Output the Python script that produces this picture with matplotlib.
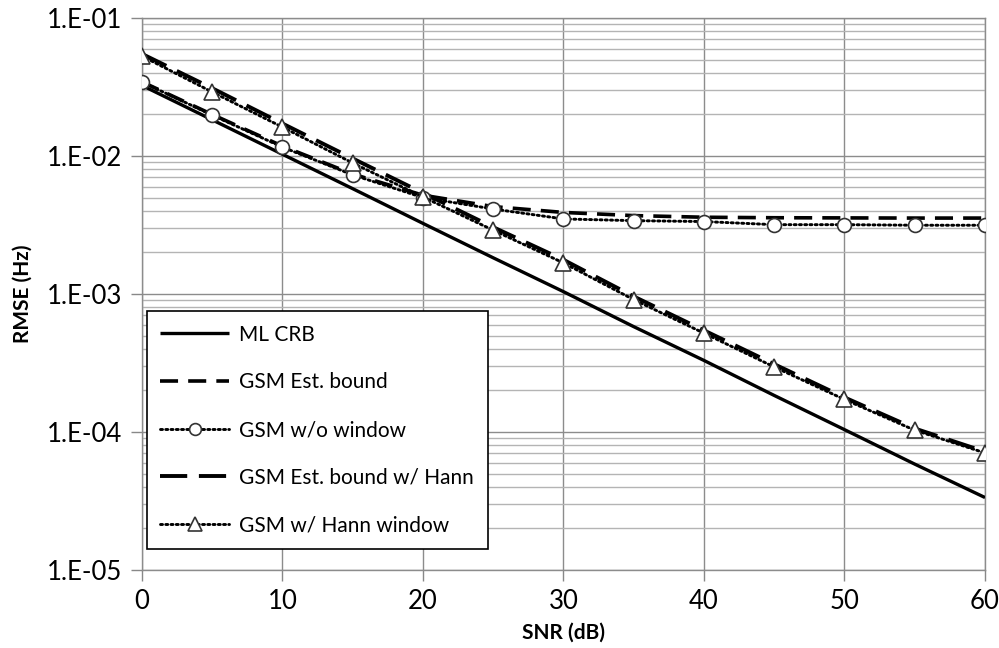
import math
import matplotlib
matplotlib.use("Agg")
import matplotlib.pyplot as plt
from matplotlib.ticker import LogLocator, FixedLocator, FuncFormatter, NullFormatter

plt.rcParams['font.family'] = ['Lato', 'DejaVu Sans']

snr = [0, 5, 10, 15, 20, 25, 30, 35, 40, 45, 50, 55, 60]

ml_crb = [3.25e-2, 1.83e-2, 1.03e-2, 5.8e-3, 3.25e-3, 1.83e-3, 1.04e-3,
          5.8e-4, 3.3e-4, 1.84e-4, 1.04e-4, 5.85e-5, 3.35e-5]
gsm_bound = [3.45e-2, 2.0e-2, 1.18e-2, 7.4e-3, 5.2e-3, 4.3e-3, 3.9e-3,
             3.7e-3, 3.6e-3, 3.57e-3, 3.56e-3, 3.55e-3, 3.55e-3]
gsm_nowin = [3.44e-2, 1.98e-2, 1.16e-2, 7.3e-3, 5.0e-3, 4.13e-3, 3.5e-3,
             3.4e-3, 3.35e-3, 3.18e-3, 3.18e-3, 3.15e-3, 3.15e-3]
hann_bound = [5.5e-2, 3.1e-2, 1.72e-2, 9.6e-3, 5.4e-3, 3.05e-3, 1.77e-3,
              9.6e-4, 5.45e-4, 3.1e-4, 1.78e-4, 1.06e-4, 7.2e-5]
gsm_hann = [5.3e-2, 2.91e-2, 1.62e-2, 8.9e-3, 5.05e-3, 2.9e-3, 1.68e-3,
            9.1e-4, 5.2e-4, 2.96e-4, 1.72e-4, 1.03e-4, 7.05e-5]

labels = ["ML CRB", "GSM Est. bound", "GSM w/o window",
          "GSM Est. bound w/ Hann", "GSM w/ Hann window"]

x_ticks = [0, 10, 20, 30, 40, 50, 60]
y_ticks = [1e-5, 1e-4, 1e-3, 1e-2, 1e-1]

fig = plt.figure(figsize=(9.99, 6.48), dpi=100)
ax = fig.add_axes([0.142, 0.1204, 0.844, 0.8518])

dot_style = (0, (0.7, 1.1))

ax.plot(snr, ml_crb, color='black', lw=2.4, solid_capstyle='butt',
        label=labels[0], zorder=3)
ax.plot(snr, gsm_bound, color='black', lw=2.6, dashes=(5.0, 2.8),
        label=labels[1], zorder=3)
ax.plot(snr, gsm_nowin, color='black', lw=2.1, linestyle=dot_style,
        dash_capstyle='round', marker='o', markersize=10,
        markerfacecolor='white', markeredgecolor='#333333',
        markeredgewidth=1.2, label=labels[2], zorder=4)
ax.plot(snr, hann_bound, color='black', lw=2.8, dashes=(7.0, 3.0),
        label=labels[3], zorder=3)
ax.plot(snr, gsm_hann, color='black', lw=2.1, linestyle=dot_style,
        dash_capstyle='round', marker='^', markersize=11.5,
        markerfacecolor='white', markeredgecolor='#333333',
        markeredgewidth=1.2, label=labels[4], zorder=4)

ax.set_yscale('log')
ax.set_xlim(0, 60)
ax.set_ylim(1e-5, 1e-1)
ax.xaxis.set_major_locator(FixedLocator(x_ticks))
ax.yaxis.set_major_locator(FixedLocator(y_ticks))
ax.yaxis.set_minor_locator(LogLocator(base=10, subs=range(2, 10), numticks=20))
ax.yaxis.set_minor_formatter(NullFormatter())


def sci_label(v, pos):
    exp = int(round(math.log10(v)))
    return "1.E-%02d" % (-exp) if exp < 0 else "1.E+%02d" % exp


ax.yaxis.set_major_formatter(FuncFormatter(sci_label))
ax.tick_params(axis='both', which='major', direction='out', length=8,
               width=1, color='#888888', labelsize=18.5, pad=6,
               labelcolor='black')
ax.tick_params(axis='y', which='minor', length=0)

ax.grid(True, which='major', axis='both', color='#8c8c8c', lw=1.0)
ax.grid(True, which='minor', axis='y', color='#b4b4b4', lw=1.0)
ax.set_axisbelow(True)
for s in ax.spines.values():
    s.set_color('#8c8c8c')
    s.set_linewidth(1.0)

ax.set_xlabel("SNR (dB)", fontsize=15, fontweight='bold', labelpad=6)
ax.set_ylabel("RMSE (Hz)", fontsize=15, fontweight='bold', labelpad=10)

leg = ax.legend(loc='upper left', bbox_to_anchor=(0.006, 0.469, 0.4045, 0.0),
                mode='expand', fontsize=15, handlelength=3.3,
                handletextpad=0.45, labelspacing=1.33, borderpad=0.65,
                fancybox=False, framealpha=1, edgecolor='black',
                borderaxespad=0, markerscale=0.85)
leg.get_frame().set_linewidth(1.2)

fig.savefig("out.png", dpi=100)
